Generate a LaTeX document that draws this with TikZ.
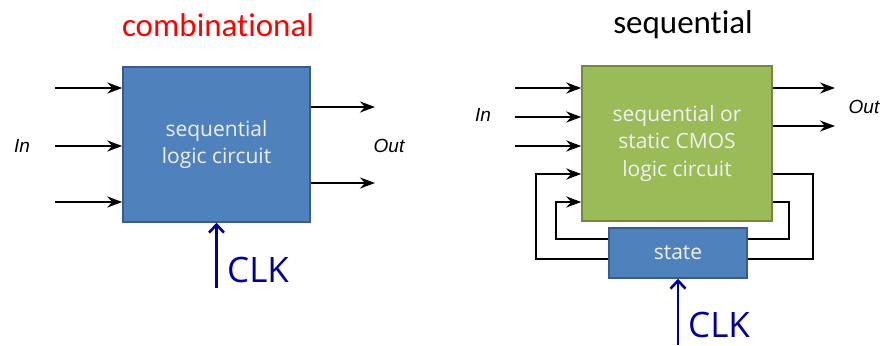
\documentclass[tikz,border=0pt]{standalone}
\usepackage{fontspec}
\setmainfont{Open Sans}
\newfontfamily\titlefont[Ligatures={NoCommon}]{Carlito}
\newfontfamily\pinfont{Liberation Sans}
\usetikzlibrary{arrows.meta, positioning}
\definecolor{boxblue}{RGB}{79,129,189}
\definecolor{boxblueline}{RGB}{56,93,138}
\definecolor{boxgreen}{RGB}{155,187,89}
\definecolor{boxgreenline}{RGB}{113,137,63}
\definecolor{clkblue}{RGB}{0,0,150}

\begin{document}
\begin{tikzpicture}[
  x=1pt, y=-1pt,
  logicbox/.style={draw=boxblueline, fill=boxblue, line width=1.5pt, text=white!94!black, align=center, inner sep=0pt, font=\fontsize{21}{27.5}\selectfont},
  titletext/.style={font=\titlefont\fontsize{33}{36}\selectfont},
  pintext/.style={font=\pinfont\itshape\fontsize{19}{22}\selectfont},
  clktext/.style={text=clkblue, anchor=west, inner sep=0pt, font=\fontsize{35}{38}\selectfont},
  sig/.style={line width=2.6pt, -{Stealth[length=15pt, width=11pt, inset=5pt]}},
  wire/.style={line width=2.6pt},
  clkarrow/.style={draw=clkblue, line width=2.6pt, -{Straight Barb[length=8pt, width=15pt]}}
]
  \useasboundingbox (0,0) rectangle (885,345);

  % combinational side
  \node[titletext, text=red] (combtitle) at (218,25) {combinational};
  \node[logicbox, minimum width=187pt, minimum height=155pt] (comb) at (216.5,144.5) {sequential\\logic circuit};
  \node[pintext] (combin) at (22,146) {In};
  \node[pintext] (combout) at (389,146) {Out};
  \foreach \y/\n in {88/1, 146/2, 202/3} {
    \coordinate (cin\n) at (55,\y);
    \draw[sig] (cin\n) -- (cin\n -| comb.west);
  }
  \foreach \y/\n in {107/1, 183/2} {
    \coordinate (cout\n) at (375,\y);
    \draw[sig] (cout\n -| comb.east) -- (cout\n);
  }
  \coordinate (combclk) at (comb.south |- 0,288);
  \draw[clkarrow] (combclk) -- (comb.south);
  \node[clktext] (combclklabel) at (227,270) {CLK};

  % sequential side
  \node[titletext] (seqtitle) at (683,25) {sequential};
  \node[logicbox, fill=boxgreen, draw=boxgreenline, minimum width=190pt, minimum height=155pt] (seq) at (677,143.5) {sequential or\\static CMOS\\logic circuit};
  \node[logicbox, minimum width=138pt, minimum height=50pt] (state) at (678,253) {state};
  \node[pintext] (seqin) at (483,115) {In};
  \node[pintext] (seqout) at (864,107) {Out};
  \foreach \y/\n in {88/1, 117/2, 146/3} {
    \coordinate (sin\n) at (515,\y);
    \draw[sig] (sin\n) -- (sin\n -| seq.west);
  }
  \foreach \y/\n in {88/1, 126/2} {
    \coordinate (sout\n) at (835,\y);
    \draw[sig] (sout\n -| seq.east) -- (sout\n);
  }
  % feedback through the state
  \draw[wire] (seq.east |- 0,174) -| (813,259) -- (state.east |- 0,259);
  \draw[wire] (seq.east |- 0,202) -| (789,239) -- (state.east |- 0,239);
  \draw[sig] (state.west |- 0,259) -| (536,174) -- (seq.west |- 0,174);
  \draw[sig] (state.west |- 0,239) -| (556,202) -- (seq.west |- 0,202);
  \coordinate (seqclk) at (state.south |- 0,345);
  \draw[clkarrow] (seqclk) -- (state.south);
  \node[clktext] (seqclklabel) at (688,325) {CLK};
\end{tikzpicture}
\end{document}
